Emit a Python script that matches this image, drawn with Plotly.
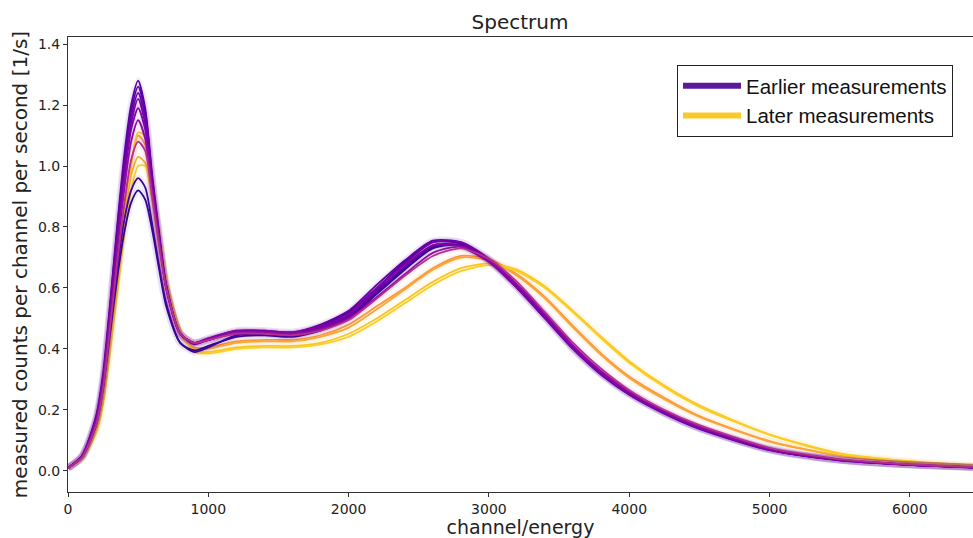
import plotly.graph_objects as go

# channel grid (x values)
channels = [0, 100, 200, 250, 300, 350, 400, 450, 500, 550, 600, 650, 700, 800, 900, 1000,
            1200, 1400, 1600, 1800, 2000, 2200, 2400, 2600, 2800, 3000, 3200, 3400, 3600,
            3800, 4000, 4250, 4500, 5000, 5500, 6000, 6450]

# earlier measurements (purple shades)
early_1 = [0.01,0.045,0.15,0.27,0.45,0.63,0.78,0.88,0.92,0.89,0.79,0.66,0.54,0.42,0.395,0.41,0.44,0.445,0.44,0.46,0.50,0.58,0.66,0.73,0.74,0.69,0.61,0.515,0.41,0.325,0.26,0.195,0.145,0.072,0.037,0.021,0.012]
early_2 = [0.01,0.047,0.16,0.28,0.47,0.66,0.82,0.92,0.96,0.93,0.81,0.67,0.55,0.42,0.39,0.405,0.445,0.45,0.445,0.465,0.505,0.585,0.665,0.735,0.74,0.69,0.605,0.51,0.405,0.32,0.255,0.19,0.14,0.07,0.036,0.02,0.012]
early_3 = [0.01,0.05,0.18,0.32,0.55,0.80,1.03,1.20,1.28,1.19,0.97,0.78,0.61,0.45,0.42,0.43,0.455,0.455,0.45,0.475,0.52,0.60,0.685,0.75,0.745,0.69,0.60,0.50,0.40,0.315,0.25,0.188,0.138,0.068,0.035,0.02,0.011]
early_4 = [0.01,0.05,0.175,0.31,0.54,0.79,1.01,1.18,1.26,1.18,0.96,0.77,0.61,0.45,0.42,0.435,0.46,0.46,0.455,0.48,0.525,0.61,0.69,0.755,0.75,0.695,0.605,0.505,0.40,0.318,0.252,0.19,0.14,0.069,0.035,0.02,0.011]
early_5 = [0.01,0.048,0.17,0.30,0.53,0.77,0.99,1.16,1.24,1.16,0.95,0.77,0.60,0.45,0.415,0.43,0.45,0.45,0.445,0.47,0.51,0.59,0.67,0.74,0.74,0.69,0.605,0.505,0.405,0.32,0.255,0.19,0.14,0.07,0.036,0.02,0.012]
early_6 = [0.01,0.048,0.17,0.30,0.52,0.76,0.97,1.14,1.22,1.14,0.94,0.76,0.60,0.45,0.42,0.43,0.455,0.455,0.45,0.47,0.51,0.595,0.68,0.75,0.75,0.695,0.61,0.51,0.405,0.322,0.256,0.192,0.142,0.071,0.036,0.02,0.012]
early_7 = [0.01,0.047,0.165,0.29,0.51,0.74,0.95,1.12,1.19,1.12,0.93,0.76,0.60,0.45,0.42,0.435,0.46,0.46,0.455,0.475,0.515,0.60,0.675,0.74,0.735,0.685,0.60,0.50,0.40,0.318,0.252,0.19,0.14,0.07,0.036,0.02,0.012]
early_8 = [0.01,0.046,0.16,0.29,0.50,0.72,0.92,1.08,1.15,1.09,0.92,0.75,0.60,0.45,0.42,0.43,0.455,0.455,0.45,0.465,0.50,0.57,0.645,0.715,0.735,0.69,0.61,0.515,0.41,0.326,0.26,0.196,0.145,0.073,0.037,0.021,0.012]
early_9 = [0.01,0.045,0.15,0.27,0.47,0.68,0.87,1.02,1.08,1.05,0.90,0.74,0.60,0.45,0.42,0.43,0.45,0.45,0.445,0.46,0.495,0.565,0.64,0.705,0.73,0.695,0.62,0.52,0.42,0.335,0.265,0.20,0.15,0.076,0.039,0.022,0.013]

# later measurements (orange / yellow shades)
later_1 = [0.01,0.044,0.14,0.26,0.45,0.66,0.86,1.01,1.10,1.07,0.92,0.75,0.60,0.45,0.405,0.405,0.425,0.43,0.43,0.445,0.48,0.54,0.60,0.665,0.705,0.695,0.645,0.57,0.475,0.385,0.31,0.24,0.18,0.098,0.05,0.028,0.016]
later_2 = [0.01,0.044,0.14,0.25,0.43,0.63,0.82,0.97,1.03,1.01,0.89,0.74,0.60,0.45,0.40,0.40,0.42,0.425,0.425,0.44,0.47,0.53,0.595,0.66,0.70,0.69,0.64,0.565,0.47,0.38,0.305,0.235,0.177,0.096,0.05,0.028,0.016]
later_3 = [0.01,0.042,0.13,0.23,0.41,0.62,0.83,1.00,1.11,1.10,0.96,0.79,0.63,0.46,0.395,0.39,0.405,0.41,0.41,0.42,0.45,0.50,0.56,0.62,0.665,0.68,0.66,0.605,0.525,0.44,0.36,0.28,0.215,0.12,0.058,0.032,0.018]
later_4 = [0.01,0.042,0.125,0.22,0.39,0.58,0.77,0.92,1.00,1.00,0.90,0.76,0.62,0.46,0.39,0.385,0.40,0.405,0.405,0.415,0.44,0.49,0.55,0.61,0.655,0.675,0.655,0.60,0.52,0.435,0.355,0.275,0.21,0.118,0.056,0.031,0.018]

early_series = [early_1, early_2, early_3, early_4, early_5, early_6, early_7, early_8, early_9]
early_colors = ["#2d0594", "#3e049c", "#5002a2", "#5c01a6", "#6800a8", "#7201a8", "#7e03a8", "#8b0aa5", "#b52f8c"]
later_series = [later_1, later_2, later_3, later_4]
later_colors = ["#f89540", "#fca636", "#fdc328", "#f7cf25"]

x_ticks = [0, 1000, 2000, 3000, 4000, 5000, 6000]
y_ticks = [0.0, 0.2, 0.4, 0.6, 0.8, 1.0, 1.2, 1.4]

fig = go.Figure()

def add_curve(ys, color):
    fig.add_trace(go.Scatter(x=channels, y=ys, mode="lines", showlegend=False,
                             line=dict(color=color, width=7, shape="spline", smoothing=0.7),
                             opacity=0.06, hoverinfo="skip"))
    fig.add_trace(go.Scatter(x=channels, y=ys, mode="lines", showlegend=False,
                             line=dict(color=color, width=1.8, shape="spline", smoothing=0.7)))

for ys, c in zip(later_series, later_colors):
    add_curve(ys, c)
for ys, c in zip(early_series, early_colors):
    add_curve(ys, c)

# legend entries
fig.add_trace(go.Scatter(x=[None], y=[None], mode="lines", name="Earlier measurements",
                         line=dict(color="#5b1a9e", width=6)))
fig.add_trace(go.Scatter(x=[None], y=[None], mode="lines", name="Later measurements",
                         line=dict(color="#f9c929", width=6)))

axis_common = dict(showline=True, linecolor="#333333", linewidth=1, mirror=True,
                   ticks="outside", ticklen=4, tickcolor="#333333", showgrid=False,
                   zeroline=False, tickfont=dict(family="DejaVu Sans", size=14, color="#222222"))

fig.update_layout(
    width=973, height=538,
    margin=dict(l=68, r=0, t=37, b=46),
    plot_bgcolor="white", paper_bgcolor="white",
    title=dict(text="Spectrum", x=520/973, y=1-22/538, xref="container", yref="container",
               xanchor="center", yanchor="middle",
               font=dict(family="DejaVu Sans", size=20, color="#222222")),
    xaxis=dict(range=[0, 6450], tickvals=x_ticks,
               title=dict(text="channel/energy", standoff=2,
                          font=dict(family="DejaVu Sans", size=19, color="#222222")),
               **axis_common),
    yaxis=dict(range=[-0.069, 1.423], tickvals=y_ticks, tickformat=".1f",
               title=dict(text="measured counts per channel per second [1/s]", standoff=4,
                          font=dict(family="DejaVu Sans", size=20, color="#222222")),
               **axis_common),
    legend=dict(x=(677-68)/905, y=(492-65)/455, xanchor="left", yanchor="top",
                bordercolor="#222222", borderwidth=1, bgcolor="white", itemwidth=58,
                font=dict(family="Liberation Sans", size=20.5, color="#111111"),
                tracegroupgap=0),
)

fig.write_html("out.html")
